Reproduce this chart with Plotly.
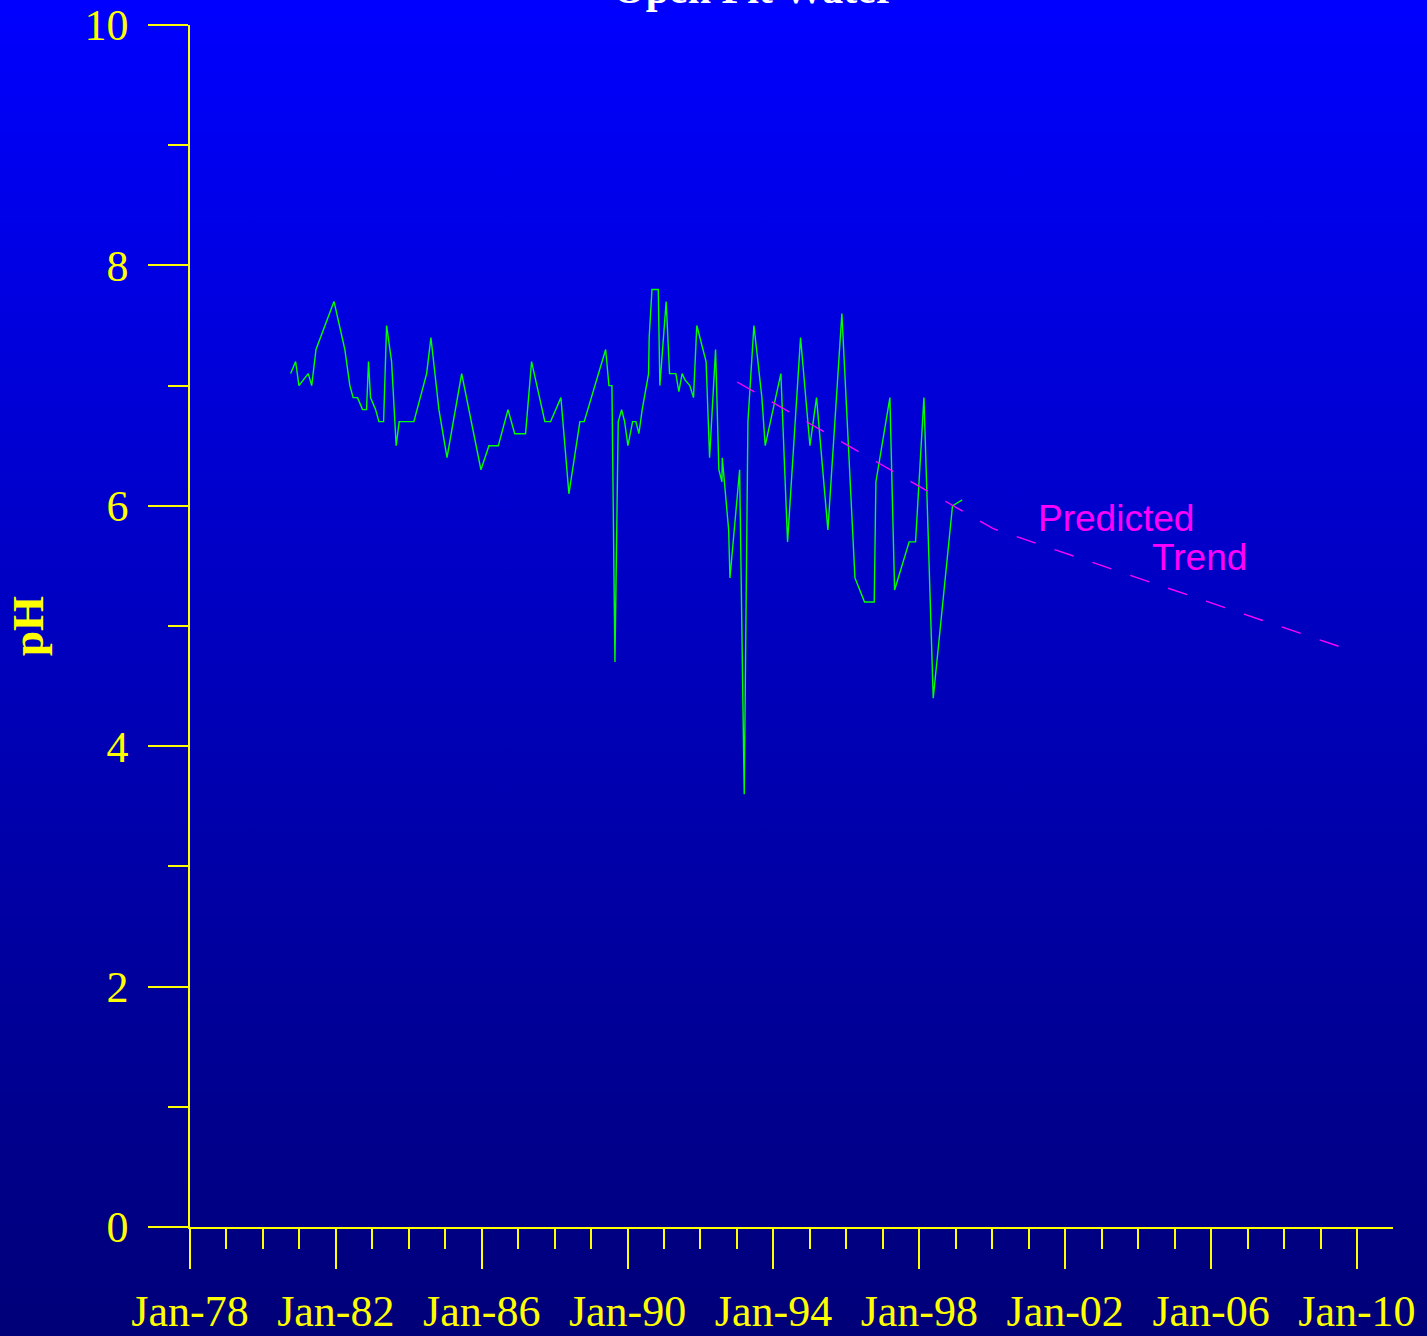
import base64
import plotly.graph_objects as go

# ---------------- data ----------------
dates = [
    "1980-10-05", "1980-11-24", "1980-12-27", "1981-03-30", "1981-05-04", "1981-06-16",
    "1981-12-13", "1982-04-01", "1982-05-21", "1982-06-23", "1982-08-06", "1982-09-25",
    "1982-11-04", "1982-11-24", "1982-12-14", "1983-02-03", "1983-03-08", "1983-04-24",
    "1983-05-24", "1983-07-13", "1983-08-28", "1983-09-27", "1984-02-21", "1984-06-28",
    "1984-08-10", "1984-10-29", "1985-01-18", "1985-06-14", "1985-12-24", "1986-03-14",
    "1986-06-16", "1986-09-21", "1986-11-27", "1987-03-16", "1987-05-15", "1987-09-25",
    "1987-11-21", "1988-03-04", "1988-05-23", "1988-09-10", "1988-10-23", "1989-05-26",
    "1989-06-28", "1989-07-28", "1989-08-27", "1989-09-29", "1989-11-02", "1989-12-02",
    "1990-01-04", "1990-02-20", "1990-03-25", "1990-04-24", "1990-05-27", "1990-07-30",
    "1990-08-05", "1990-09-02", "1990-11-04", "1990-11-20", "1991-01-22", "1991-02-25",
    "1991-04-29", "1991-05-29", "1991-07-01", "1991-07-28", "1991-09-16", "1991-10-23",
    "1991-11-25", "1992-02-26", "1992-04-01", "1992-05-31", "1992-07-03", "1992-08-03",
    "1992-08-06", "1992-10-09", "1992-10-22", "1993-01-27", "1993-03-14", "1993-04-20",
    "1993-06-19", "1993-09-07", "1993-10-10", "1994-03-16", "1994-05-22", "1994-09-29",
    "1995-01-01", "1995-03-08", "1995-06-30", "1995-11-17", "1996-03-27", "1996-07-01",
    "1996-10-06", "1996-10-23", "1997-03-12", "1997-04-28", "1997-09-21", "1997-11-24",
    "1998-02-16", "1998-05-20", "1998-11-29", "1999-03-06",
]
ph = [
    7.1, 7.2, 7.0, 7.1, 7.0, 7.3,
    7.7, 7.3, 7.0, 6.9, 6.9, 6.8,
    6.8, 7.2, 6.9, 6.8, 6.7, 6.7,
    7.5, 7.2, 6.5, 6.7, 6.7, 7.1,
    7.4, 6.8, 6.4, 7.1, 6.3, 6.5,
    6.5, 6.8, 6.6, 6.6, 7.2, 6.7,
    6.7, 6.9, 6.1, 6.7, 6.7, 7.3,
    7.0, 7.0, 4.7, 6.7, 6.8, 6.7,
    6.5, 6.7, 6.7, 6.6, 6.8, 7.1,
    7.4, 7.8, 7.8, 7.0, 7.7, 7.1,
    7.1, 6.95, 7.1, 7.05, 7.0, 6.9,
    7.5, 7.2, 6.4, 7.3, 6.3, 6.2,
    6.4, 5.8, 5.4, 6.3, 3.6, 6.7,
    7.5, 6.9, 6.5, 7.1, 5.7, 7.4,
    6.5, 6.9, 5.8, 7.6, 5.4, 5.2,
    5.2, 6.2, 6.9, 5.3, 5.7, 5.7,
    6.9, 4.4, 6.0, 6.05,
]

trend_dates = ["1993-01-01", "2000-01-10", "2009-07-05"]
trend_ph = [7.03, 5.81, 4.83]

title_text = "Open Pit Water"
y_title = "pH"
trend_label_1 = "Predicted"
trend_label_2 = "Trend"

x_range = ["1978-01-01", "2010-12-28"]
y_range = [0, 10]

# ---------------- figure ----------------
W, H = 1427, 1336
L, R, T, B = 190, 34, 25, 109
PW, PH = W - L - R, H - T - B

YEL = "#FFFF00"
LW = 1.5
SERIF = "Liberation Serif, Times New Roman, serif"
SANS = "Liberation Sans, Arial, sans-serif"

fig = go.Figure()

fig.add_trace(go.Scatter(
    x=dates, y=ph, mode="lines",
    line=dict(color="#00FF00", width=1.4),
    showlegend=False, hoverinfo="skip",
))
fig.add_trace(go.Scatter(
    x=trend_dates, y=trend_ph, mode="lines",
    line=dict(color="#FF00FF", width=1.4, dash="20px,20px"),
    showlegend=False, hoverinfo="skip",
))

svg = ('<svg xmlns="http://www.w3.org/2000/svg" width="10" height="100" '
       'preserveAspectRatio="none"><defs><linearGradient id="g" x1="0" y1="0" '
       'x2="0" y2="1"><stop offset="0" stop-color="#0000FF"/>'
       '<stop offset="1" stop-color="#000078"/></linearGradient></defs>'
       '<rect width="10" height="100" fill="url(#g)"/></svg>')
svg_uri = "data:image/svg+xml;base64," + base64.b64encode(svg.encode()).decode()

fig.add_layout_image(dict(
    source=svg_uri, xref="paper", yref="paper",
    x=-L / PW, y=1 + T / PH, sizex=W / PW, sizey=H / PH,
    xanchor="left", yanchor="top", sizing="stretch", layer="below",
))

fig.update_layout(
    width=W, height=H,
    margin=dict(l=L, r=R, t=T, b=B, pad=0, autoexpand=False),
    paper_bgcolor="#0000BB",
    plot_bgcolor="rgba(0,0,0,0)",
    showlegend=False,
    xaxis=dict(
        type="date", range=x_range, automargin=False,
        showline=True, linecolor=YEL, linewidth=LW,
        showgrid=False, zeroline=False,
        ticks="outside", ticklen=40, tickwidth=LW, tickcolor=YEL,
        tick0="1978-01-01", dtick="M48", tickformat="%b-%y",
        tickfont=dict(family=SERIF, size=44, color=YEL),
        minor=dict(ticks="outside", ticklen=20, tickwidth=LW, tickcolor=YEL,
                   tick0="1978-01-01", dtick="M12", showgrid=False),
        ticklabelstandoff=4,
    ),
    yaxis=dict(
        range=y_range, automargin=False,
        showline=True, linecolor=YEL, linewidth=LW,
        showgrid=False, zeroline=False,
        ticks="outside", ticklen=40, tickwidth=LW, tickcolor=YEL,
        tick0=0, dtick=2,
        tickfont=dict(family=SERIF, size=44, color=YEL),
        minor=dict(ticks="outside", ticklen=20, tickwidth=LW, tickcolor=YEL,
                   tick0=0, dtick=1, showgrid=False),
        ticklabelstandoff=11,
    ),
)

fig.add_annotation(
    text=title_text, xref="paper", yref="paper",
    x=(753.5 - L) / PW, y=1 + (T - 13) / PH,
    xanchor="center", yanchor="bottom", showarrow=False, borderpad=0,
    font=dict(family=SERIF, size=42, color="#FFFFFF", weight="bold"),
)
fig.add_annotation(
    text=y_title, xref="paper", yref="paper",
    x=(28 - L) / PW, y=0.5, textangle=-90,
    xanchor="center", yanchor="middle", showarrow=False, borderpad=0,
    font=dict(family=SERIF, size=45, color=YEL, weight="bold"),
)
fig.add_annotation(
    text=trend_label_1, x="2001-03-23", y=5.713,
    xanchor="left", yanchor="bottom", showarrow=False, borderpad=0,
    font=dict(family=SANS, size=37, color="#FF00FF"),
)
fig.add_annotation(
    text=trend_label_2, x="2004-05-08", y=5.388,
    xanchor="left", yanchor="bottom", showarrow=False, borderpad=0,
    font=dict(family=SANS, size=37, color="#FF00FF"),
)

fig.write_html(
    "out.html",
    config={"displayModeBar": False},
    post_script=("document.body.style.margin='0';"
                 "document.body.style.padding='0';"
                 "document.documentElement.style.overflow='hidden';"),
)
